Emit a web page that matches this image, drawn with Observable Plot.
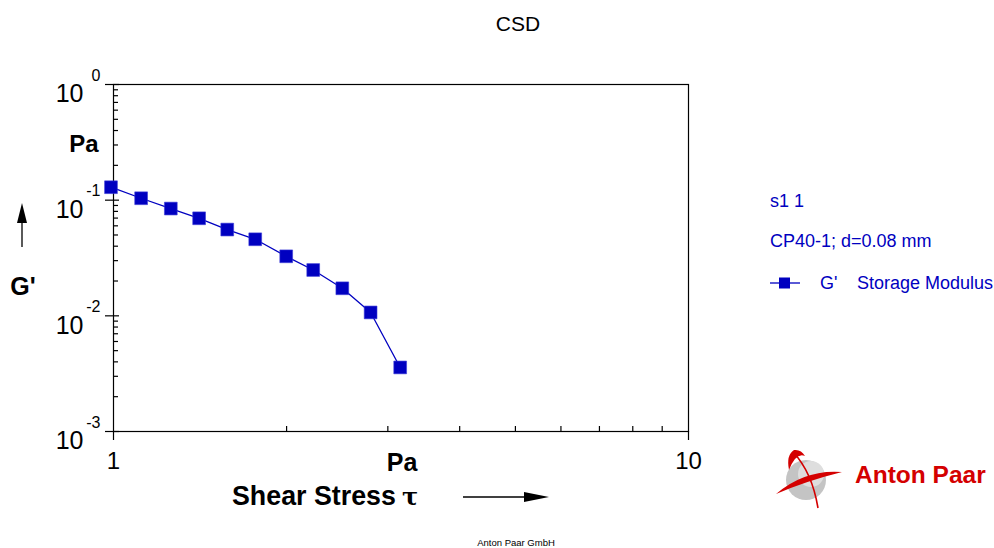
<!DOCTYPE html>
<html>
<head>
<meta charset="utf-8">
<script src="https://cdn.jsdelivr.net/npm/d3@7"></script>
<script src="https://cdn.jsdelivr.net/npm/@observablehq/plot@0.6"></script>
<style>
  html, body { margin: 0; padding: 0; background: #fff; }
  svg { display: block; }
</style>
</head>
<body>
<script>
// ---- data ----
const stress = [0.99, 1.117, 1.258, 1.409, 1.577, 1.764, 1.997, 2.225, 2.50, 2.80, 3.152];
const storageModulus = [0.1294, 0.1039, 0.0846, 0.0697, 0.0557, 0.0459, 0.0327, 0.0249, 0.0173, 0.0107, 0.00358];

// ---- ticks and labels ----
const xMajorTicks = [1, 10];
const xMajorLabels = ["1", "10"];
const xMinorTicks = [2, 3, 4, 5, 6, 7, 8, 9];
const yMajorTicks = [1e-3, 1e-2, 1e-1, 1];
const yBaseLabel = "10";
const yExponents = ["-3", "-2", "-1", "0"];
const yMinorTicks = [1e-3, 1e-2, 1e-1].flatMap(d => [2, 3, 4, 5, 6, 7, 8, 9].map(m => m * d));

const titleText = "CSD";
const xLabel = "Shear Stress";
const xSymbol = "\u03c4";
const xUnit = "Pa";
const yLabel = "G'";
const yUnit = "Pa";
const legendLines = ["s1 1", "CP40-1; d=0.08 mm"];
const seriesName = "G'";
const seriesDesc = "Storage Modulus";
const footer = "Anton Paar GmbH";
const logoText = "Anton Paar";

const blue = "#0000c0";
const font = "'Liberation Sans', Arial, Helvetica, sans-serif";

const data = stress.map((x, i) => ({x, y: storageModulus[i]}));

const chart = Plot.plot({
  width: 994,
  height: 548,
  marginLeft: 113,
  marginRight: 306,
  marginTop: 84,
  marginBottom: 117,
  style: {fontFamily: font, background: "#fff", color: "#000", overflow: "visible"},
  x: {type: "log", domain: [1, 10], axis: null},
  y: {type: "log", domain: [1e-3, 1], axis: null},
  marks: [
    Plot.frame({stroke: "#000", strokeWidth: 1.2}),
    Plot.axisX({ticks: xMinorTicks, anchor: "bottom", tickSize: 5, dy: -5, tickFormat: () => "", strokeWidth: 1.2, label: null}),
    Plot.axisX({ticks: xMajorTicks, anchor: "bottom", tickSize: 9, tickPadding: 11, strokeWidth: 1.2,
      tickFormat: d => xMajorLabels[xMajorTicks.indexOf(d)], fontSize: 24, label: null}),
    Plot.axisY({ticks: yMinorTicks, anchor: "left", tickSize: 5, dx: 5, tickFormat: () => "", strokeWidth: 1.2, label: null}),
    Plot.axisY({ticks: yMajorTicks, anchor: "left", tickSize: 14, dx: 6, tickFormat: () => "", strokeWidth: 1.2, label: null}),
    Plot.text(yMajorTicks, {y: d => d, text: () => yBaseLabel, frameAnchor: "left", textAnchor: "end",
      dx: -30, lineAnchor: "top", dy: 0, fontSize: 25, fill: "#000"}),
    Plot.text(yMajorTicks, {y: d => d, text: (d, i) => yExponents[i], frameAnchor: "left", textAnchor: "end",
      dx: -13, lineAnchor: "bottom", dy: -4, fontSize: 16, fill: "#000"}),
    Plot.line(data, {x: "x", y: "y", stroke: blue, strokeWidth: 1.3}),
    Plot.dot(data, {x: "x", y: "y", symbol: "square", r: 7.2, fill: blue, stroke: "#3a3ad8", strokeWidth: 0.6})
  ]
});

document.body.appendChild(chart);

// ---- annotations (title, axis labels, legend, logo, footer) ----
const svg = d3.select(chart);
const g = svg.append("g").attr("font-family", font).attr("text-anchor", "start");

g.append("text").attr("x", 518).attr("y", 31).attr("text-anchor", "middle")
  .attr("font-size", 21).attr("fill", "#000").text(titleText);

// y axis label
g.append("text").attr("x", 84).attr("y", 152).attr("text-anchor", "middle")
  .attr("font-size", 24).attr("font-weight", "bold").attr("fill", "#000").text(yUnit);
g.append("line").attr("x1", 22).attr("x2", 22).attr("y1", 247).attr("y2", 220)
  .attr("stroke", "#000").attr("stroke-width", 1.3);
g.append("path").attr("d", "M22,203 L17,223 L27,223 Z").attr("fill", "#000");
g.append("text").attr("x", 23).attr("y", 295).attr("text-anchor", "middle")
  .attr("font-size", 25).attr("font-weight", "bold").attr("fill", "#000").text(yLabel);

// x axis label
g.append("text").attr("x", 402).attr("y", 471).attr("text-anchor", "middle")
  .attr("font-size", 25).attr("font-weight", "bold").attr("fill", "#000").text(xUnit);
g.append("text").attr("x", 232).attr("y", 505).attr("text-anchor", "start")
  .attr("font-size", 26.8).attr("font-weight", "bold").attr("fill", "#000").text(xLabel);
g.append("text").attr("x", 410).attr("y", 505).attr("text-anchor", "middle")
  .attr("font-size", 24).attr("font-weight", "bold").attr("font-family", "'DejaVu Serif', 'Liberation Serif', serif")
  .attr("fill", "#000").text(xSymbol);
g.append("line").attr("x1", 463).attr("x2", 530).attr("y1", 497).attr("y2", 497)
  .attr("stroke", "#000").attr("stroke-width", 1.3);
g.append("path").attr("d", "M549,497 L524,492 L524,502 Z").attr("fill", "#000");

// legend
legendLines.forEach((t, i) => {
  g.append("text").attr("x", 770).attr("y", 207 + i * 40).attr("font-size", 18)
    .attr("text-anchor", "start").attr("fill", blue).text(t);
});
g.append("line").attr("x1", 770).attr("x2", 800).attr("y1", 283).attr("y2", 283)
  .attr("stroke", blue).attr("stroke-width", 1.3);
g.append("rect").attr("x", 779).attr("y", 277.5).attr("width", 11).attr("height", 11).attr("fill", blue);
g.append("text").attr("x", 820).attr("y", 289).attr("font-size", 18).attr("text-anchor", "start")
  .attr("fill", blue).text(seriesName);
g.append("text").attr("x", 857).attr("y", 289).attr("font-size", 18).attr("text-anchor", "start")
  .attr("fill", blue).text(seriesDesc);

// logo
const logo = g.append("g");
logo.append("circle").attr("cx", 806).attr("cy", 480).attr("r", 20).attr("fill", "#c4c4c4");
logo.append("circle").attr("cx", 811).attr("cy", 474).attr("r", 13).attr("fill", "#dedede");
logo.append("path").attr("d", "M789,470 Q786,455 794,450 Q801,449 805,456 Q796,452 789,470 Z").attr("fill", "#d40000");
logo.append("path").attr("d", "M793,452 Q812,472 818,508").attr("fill", "none").attr("stroke", "#d40000").attr("stroke-width", 1.6);
logo.append("path").attr("d", "M776,494 Q805,469 842,472 Q806,481 776,494 Z").attr("fill", "#d40000");
logo.append("text").attr("x", 855).attr("y", 483).attr("font-size", 24.5).attr("font-weight", "bold")
  .attr("text-anchor", "start").attr("fill", "#d40000").text(logoText);

// footer
g.append("text").attr("x", 516).attr("y", 546).attr("text-anchor", "middle")
  .attr("font-size", 9.5).attr("fill", "#000").text(footer);
</script>
</body>
</html>
